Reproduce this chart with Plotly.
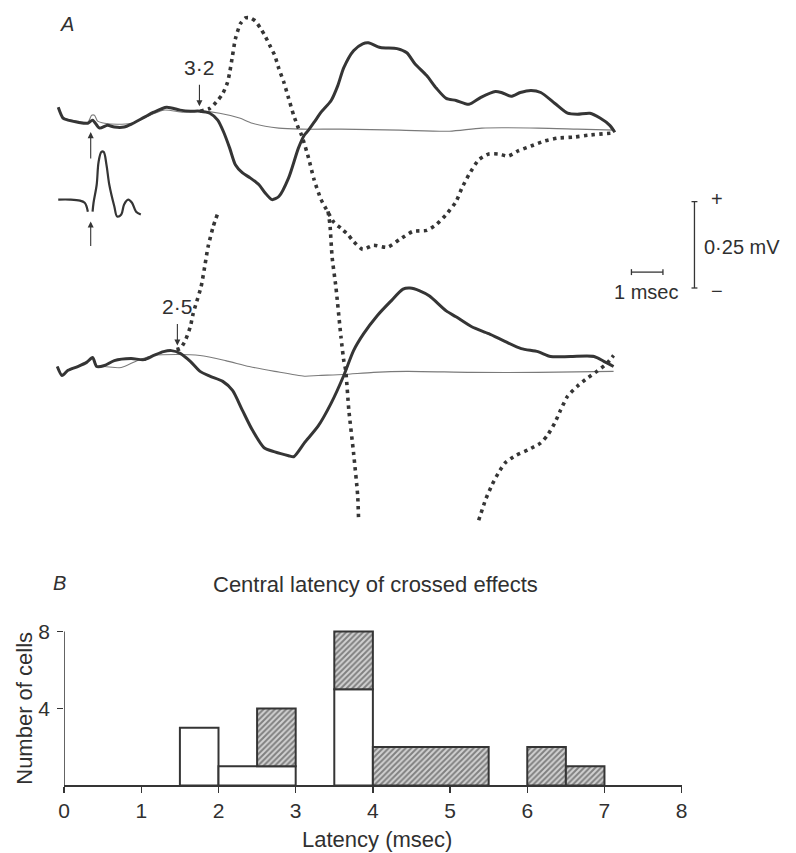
import plotly.graph_objects as go

# ---------------- Panel A: recordings (time in msec, potential in mV) ----------------
# upper record (latency 3.2 msec)
up_thick_t = [-1.28, -1.13, -0.97, -0.66, -0.34, -0.19, 0.03, 0.28, 0.50, 0.81, 1.03, 1.44, 1.75, 2.16, 2.59,
              2.91, 3.22, 3.53, 3.78, 3.97, 4.16, 4.34, 4.56, 4.81, 5.09, 5.28, 5.50, 5.72, 6.03, 6.34, 6.53,
              6.66, 6.84, 7.06, 7.38, 7.59, 7.78, 8.09, 8.38, 8.56, 8.94, 9.47, 9.78, 10.03, 10.41, 10.72,
              11.03, 11.34, 11.75, 12.13, 12.59, 12.78, 13.09, 13.38, 13.72, 14.03, 14.47, 14.88, 15.19,
              15.59, 15.91, 16.22, 16.38]
up_thick_v = [0.063, 0.032, 0.026, 0.020, 0.017, 0.026, 0.003, 0.011, 0.006, 0.006, 0.014, 0.034, 0.049, 0.063,
              0.055, 0.052, 0.052, 0.046, 0.026, -0.009, -0.055, -0.103, -0.126, -0.141, -0.161, -0.184,
              -0.204, -0.195, -0.141, -0.055, -0.017, -0.003, 0.020, 0.049, 0.083, 0.126, 0.178, 0.227,
              0.247, 0.250, 0.236, 0.233, 0.221, 0.190, 0.155, 0.118, 0.089, 0.083, 0.072, 0.092, 0.109,
              0.106, 0.095, 0.106, 0.112, 0.106, 0.075, 0.046, 0.043, 0.046, 0.032, 0.011, -0.009]

up_thin_t = [-1.28, -1.13, -0.66, -0.34, -0.22, -0.13, -0.03, 0.19, 0.59, 1.03, 1.44, 2.06, 2.69, 3.22, 3.84,
             4.47, 4.88, 5.72, 6.44, 7.69, 9.56, 11.13, 12.16, 13.94, 15.19, 16.38]
up_thin_v = [0.063, 0.034, 0.023, 0.020, 0.040, 0.040, 0.023, 0.017, 0.014, 0.017, 0.032, 0.055, 0.049, 0.052,
             0.046, 0.032, 0.017, 0.003, 0.0, 0.0, -0.003, -0.006, 0.003, 0.003, 0.0, -0.003]

up_dot_t = [3.22, 3.53, 3.78, 3.94, 4.09, 4.16, 4.25, 4.34, 4.50, 4.66, 4.81, 4.97, 5.13, 5.28, 5.44, 5.59,
            5.72, 5.88, 6.03, 6.19, 6.34, 6.44, 6.66, 6.84, 7.06, 7.28, 7.47, 7.69, 7.91, 8.09, 8.38, 8.72,
            9.16, 9.56, 9.97, 10.41, 10.72, 11.03, 11.34, 11.53, 11.75, 12.06, 12.38, 12.69, 13.00, 13.31,
            13.72, 14.16, 14.56, 15.09, 15.59, 16.34]
up_dot_v = [0.052, 0.060, 0.083, 0.103, 0.135, 0.164, 0.213, 0.261, 0.305, 0.322, 0.322, 0.313, 0.293, 0.270,
            0.241, 0.213, 0.175, 0.135, 0.089, 0.040, 0.003, -0.017, -0.083, -0.147, -0.204, -0.241, -0.270,
            -0.287, -0.305, -0.325, -0.348, -0.336, -0.342, -0.319, -0.296, -0.293, -0.276, -0.247, -0.210,
            -0.170, -0.132, -0.089, -0.072, -0.072, -0.078, -0.063, -0.049, -0.034, -0.026, -0.023, -0.017,
            -0.011]

# inset volley (drawn under the upper record)
inset_a_t = [-1.28, -0.91, -0.59, -0.44, -0.38, -0.34]
inset_a_v = [-0.204, -0.204, -0.207, -0.213, -0.224, -0.239]
inset_b_t = [-0.19, -0.16, -0.06, 0.0, 0.09, 0.16, 0.25, 0.34, 0.50, 0.59, 0.72, 0.81, 0.94, 1.06, 1.19, 1.34]
inset_b_v = [-0.239, -0.213, -0.161, -0.095, -0.066, -0.066, -0.103, -0.161, -0.224, -0.253, -0.247, -0.218,
             -0.204, -0.213, -0.239, -0.247]

# lower record (latency 2.5 msec)
lo_thick_t = [-1.31, -1.16, -0.97, -0.66, -0.38, -0.19, -0.06, 0.19, 0.50, 1.03, 1.44, 1.75, 2.06, 2.31, 2.59,
              2.91, 3.22, 3.53, 3.94, 4.25, 4.56, 4.88, 5.25, 5.59, 6.03, 6.19, 6.53, 6.97, 7.38, 7.78, 8.09,
              8.41, 8.84, 9.25, 9.66, 9.88, 10.19, 10.50, 11.03, 11.34, 11.84, 12.38, 12.91, 13.41, 13.94,
              14.34, 14.97, 15.72, 16.03, 16.34]
lo_thick_v = [0.017, -0.009, 0.006, 0.017, 0.029, 0.043, 0.017, 0.020, 0.034, 0.040, 0.037, 0.049, 0.060, 0.063,
              0.055, 0.032, 0.003, -0.011, -0.026, -0.052, -0.109, -0.167, -0.218, -0.230, -0.241, -0.244,
              -0.204, -0.155, -0.089, -0.009, 0.063, 0.112, 0.164, 0.204, 0.241, 0.244, 0.236, 0.221, 0.178,
              0.161, 0.132, 0.112, 0.089, 0.069, 0.060, 0.046, 0.046, 0.046, 0.032, 0.017]

lo_thin_t = [-1.31, -1.16, -0.97, -0.66, -0.38, -0.19, -0.06, 0.19, 0.72, 1.22, 1.75, 2.47, 3.22, 4.03, 4.78,
             5.59, 6.53, 6.97, 7.78, 8.72, 9.78, 11.84, 13.94, 16.34]
lo_thin_v = [0.017, -0.009, 0.006, 0.017, 0.029, 0.043, 0.017, 0.017, 0.014, 0.034, 0.049, 0.052, 0.049, 0.034,
             0.017, 0.003, -0.011, -0.009, -0.006, 0.0, 0.003, 0.0, 0.0, 0.003]

# dotted lower record leaves the recording window twice: three visible pieces
lo_dot1_t = [2.47, 2.59, 2.75, 2.91, 3.00, 3.09, 3.25, 3.38, 3.47, 3.63, 3.78]
lo_dot1_v = [0.066, 0.069, 0.092, 0.132, 0.170, 0.198, 0.247, 0.313, 0.362, 0.420, 0.460]
lo_dot2_t = [7.28, 7.34, 7.41, 7.53, 7.69, 7.78, 7.84, 7.94, 8.09, 8.22, 8.25]
lo_dot2_v = [0.466, 0.428, 0.333, 0.247, 0.103, 0.034, 0.006, -0.109, -0.233, -0.356, -0.428]
lo_dot3_t = [12.06, 12.28, 12.47, 12.69, 12.91, 13.22, 13.63, 14.03, 14.25, 14.47, 14.66, 14.88, 15.19, 15.50,
             15.81, 16.13, 16.34]
lo_dot3_v = [-0.428, -0.368, -0.328, -0.290, -0.261, -0.241, -0.224, -0.204, -0.181, -0.147, -0.109, -0.069,
             -0.040, -0.017, 0.003, 0.026, 0.049]

latency_upper = 3.2
latency_lower = 2.5
scale_time = 1.0     # msec
scale_volt = 0.25    # mV

# ---------------- Panel B: histogram ----------------
bin_width = 0.5
bin_left = [0.0, 0.5, 1.0, 1.5, 2.0, 2.5, 3.0, 3.5, 4.0, 4.5, 5.0, 5.5, 6.0, 6.5, 7.0, 7.5]
open_counts = [0, 0, 0, 3, 1, 1, 0, 5, 0, 0, 0, 0, 0, 0, 0, 0]
hatched_counts = [0, 0, 0, 0, 0, 3, 0, 3, 2, 2, 2, 0, 2, 1, 0, 0]
x_ticks = [0, 1, 2, 3, 4, 5, 6, 7, 8]
y_ticks = [4, 8]

# ---------------- layout geometry ----------------
W, H = 796, 853
PX_MS, PX_MV = 32.0, 348.0       # pixels per msec / per mV
T0_PX = 94                       # x pixel of t = 0
UP_BASE, LO_BASE = 124, 369      # baseline pixel rows of the two records
A_TOP, A_BOT = 0, 540


def px_x(px):
    return px / W


def px_y(py):
    return 1 - py / H


INK = "#353535"
TXT = "#303030"
FONT = "Liberation Sans"

fig = go.Figure()

thick = dict(color=INK, width=3, shape="spline", smoothing=0.7)
thin = dict(color="#7a7a7a", width=1.1, shape="spline", smoothing=0.7)
dotted = dict(color=INK, width=3.6, dash="3.4px,4.4px", shape="spline", smoothing=0.6)

for t, v, ln, ya in [
    (up_thin_t, up_thin_v, thin, "y"),
    (up_thick_t, up_thick_v, thick, "y"),
    (up_dot_t, up_dot_v, dotted, "y"),
    (inset_a_t, inset_a_v, dict(color=INK, width=2.2, shape="spline"), "y"),
    (inset_b_t, inset_b_v, dict(color=INK, width=2.2, shape="spline"), "y"),
    (lo_thin_t, lo_thin_v, thin, "y2"),
    (lo_thick_t, lo_thick_v, thick, "y2"),
    (lo_dot1_t, lo_dot1_v, dotted, "y2"),
    (lo_dot2_t, lo_dot2_v, dotted, "y2"),
    (lo_dot3_t, lo_dot3_v, dotted, "y2"),
]:
    fig.add_trace(go.Scatter(x=t, y=v, mode="lines", line=ln, xaxis="x", yaxis=ya,
                             hoverinfo="skip", showlegend=False))


# histogram blocks: merge runs of equal adjacent bins into one outlined block
def blocks(counts, bases):
    out = []
    i, n = 0, len(counts)
    while i < n:
        if counts[i] == 0:
            i += 1
            continue
        j = i
        while j + 1 < n and counts[j + 1] == counts[i] and bases[j + 1] == bases[i]:
            j += 1
        left = bin_left[i]
        right = bin_left[j] + bin_width
        out.append(((left + right) / 2, right - left, counts[i], bases[i]))
        i = j + 1
    return out


ob = blocks(open_counts, [0] * len(open_counts))
hb = blocks(hatched_counts, open_counts)

fig.add_trace(go.Bar(x=[b[0] for b in ob], width=[b[1] for b in ob], y=[b[2] for b in ob],
                     base=[b[3] for b in ob], xaxis="x2", yaxis="y3",
                     marker=dict(color="white", line=dict(color=INK, width=2)),
                     hoverinfo="skip", showlegend=False))
fig.add_trace(go.Bar(x=[b[0] for b in hb], width=[b[1] for b in hb], y=[b[2] for b in hb],
                     base=[b[3] for b in hb], xaxis="x2", yaxis="y3",
                     marker=dict(color="#d2d2d2", line=dict(color=INK, width=2),
                                 pattern=dict(shape="/", fgcolor="#2e2e2e", size=4, solidity=0.5)),
                     hoverinfo="skip", showlegend=False))

# axes ranges
xa_rng = [(0 - T0_PX) / PX_MS, (W - T0_PX) / PX_MS]
ya_up = [(UP_BASE - A_BOT) / PX_MV, (UP_BASE - A_TOP) / PX_MV]
ya_lo = [(LO_BASE - A_BOT) / PX_MV, (LO_BASE - A_TOP) / PX_MV]

B_X0, B_X1 = 59, 686
B_Y0, B_Y8 = 785, 630
YB_TOP = 8.3
b_top_px = B_Y0 - YB_TOP * (B_Y0 - B_Y8) / 8

hidden = dict(visible=False, showgrid=False, zeroline=False, fixedrange=True)

fig.update_layout(
    width=W, height=H, margin=dict(l=0, r=0, t=0, b=0),
    paper_bgcolor="white", plot_bgcolor="rgba(0,0,0,0)",
    barmode="overlay", bargap=0,
    font=dict(family=FONT, color=TXT, size=20),
    xaxis=dict(domain=[0, 1], range=xa_rng, anchor="y", **hidden),
    yaxis=dict(domain=[px_y(A_BOT), px_y(A_TOP)], range=ya_up, anchor="x", **hidden),
    yaxis2=dict(domain=[px_y(A_BOT), px_y(A_TOP)], range=ya_lo, anchor="x", overlaying="y", **hidden),
    xaxis2=dict(domain=[px_x(B_X0), px_x(B_X1)], range=[0, 8], anchor="y3",
                showline=True, linecolor=INK, linewidth=1.5, ticks="outside", ticklen=6,
                tickwidth=1.5, tickcolor=INK, tickvals=x_ticks, ticktext=[str(v) for v in x_ticks],
                tickfont=dict(size=21, family=FONT, color=TXT), ticklabelstandoff=0,
                showgrid=False, zeroline=False, fixedrange=True),
    yaxis3=dict(domain=[px_y(B_Y0), px_y(b_top_px)], range=[0, YB_TOP], anchor="x2",
                showline=False, ticks="outside", ticklen=6, tickwidth=1.5, tickcolor=INK,
                tickvals=y_ticks, ticktext=[str(v) for v in y_ticks],
                tickfont=dict(size=21, family=FONT, color=TXT), ticklabelstandoff=3,
                showgrid=False, zeroline=False, fixedrange=True),
)

shapes = []
# y axis line of panel B (from 0 to 8 only)
shapes.append(dict(type="line", xref="x2", yref="y3", x0=0, x1=0, y0=0, y1=8,
                   line=dict(color=INK, width=1.5)))

# calibration bars (in data units of the upper record)
sb_t0 = (635 - T0_PX) / PX_MS
sb_v = (UP_BASE - 268) / PX_MV
cap_t = 3 / PX_MV
shapes.append(dict(type="line", xref="x", yref="y", x0=sb_t0, x1=sb_t0 + scale_time, y0=sb_v, y1=sb_v,
                   line=dict(color=INK, width=1.3)))
for tt in (sb_t0, sb_t0 + scale_time):
    shapes.append(dict(type="line", xref="x", yref="y", x0=tt, x1=tt, y0=sb_v - cap_t, y1=sb_v + cap_t,
                       line=dict(color=INK, width=1.3)))
vb_t = (699 - T0_PX) / PX_MS
vb_v0 = (UP_BASE - 284) / PX_MV
cap_h = 3 / PX_MS
shapes.append(dict(type="line", xref="x", yref="y", x0=vb_t, x1=vb_t, y0=vb_v0, y1=vb_v0 + scale_volt,
                   line=dict(color=INK, width=1.3)))
for vv in (vb_v0, vb_v0 + scale_volt):
    shapes.append(dict(type="line", xref="x", yref="y", x0=vb_t - cap_h, x1=vb_t + cap_h, y0=vv, y1=vv,
                       line=dict(color=INK, width=1.3)))
fig.update_layout(shapes=shapes)

ann = []


def txt(x, y, s, size=20, xanchor="center", italic=False, angle=0):
    ann.append(dict(x=px_x(x), y=px_y(y), xref="paper", yref="paper", text=s, showarrow=False,
                    xanchor=xanchor, yanchor="middle", textangle=angle,
                    font=dict(size=size, family=FONT, color=TXT, style="italic" if italic else "normal")))


def arrow(x, y, xref, yref, ay):
    ann.append(dict(x=x, y=y, xref=xref, yref=yref, text="", showarrow=True, ax=0, ay=ay,
                    arrowhead=2, arrowsize=1.1, arrowwidth=1.1, arrowcolor=INK, standoff=0))


txt(62, 18, "A", size=20, italic=True)
txt(54, 581, "B", size=20, italic=True)
txt(375, 583, "Central latency of crossed effects", size=22)
txt(377, 839, "Latency (msec)", size=22)
txt(18, 707, "Number of cells", size=22, angle=-90)

# latency markers
ann.append(dict(x=latency_upper, y=(UP_BASE - 62) / PX_MV, xref="x", yref="y", text="3·2", showarrow=False,
                font=dict(size=21, family=FONT, color=TXT)))
arrow(latency_upper, (UP_BASE - 101) / PX_MV, "x", "y", -23)
ann.append(dict(x=latency_lower, y=(LO_BASE - 303) / PX_MV, xref="x", yref="y2", text="2·5", showarrow=False,
                font=dict(size=21, family=FONT, color=TXT)))
arrow(latency_lower, (LO_BASE - 342) / PX_MV, "x", "y2", -23)

# stimulus arrows
stim_t = (86 - T0_PX) / PX_MS
arrow(stim_t, (UP_BASE - 127) / PX_MV, "x", "y", 28)
arrow(stim_t, (UP_BASE - 217) / PX_MV, "x", "y", 26)

# calibration labels
txt(650, 288, "1 msec", size=20)
txt(707, 243, "0·25 mV", size=20, xanchor="left")
txt(722, 194, "+", size=20)
txt(722, 287, "−", size=20)

fig.update_layout(annotations=ann)
fig.write_html(
    "out.html",
    config={"displayModeBar": False, "staticPlot": True},
    post_script="document.documentElement.style.margin='0';document.body.style.margin='0';"
                "document.body.style.overflow='hidden';document.documentElement.style.overflow='hidden';",
)
